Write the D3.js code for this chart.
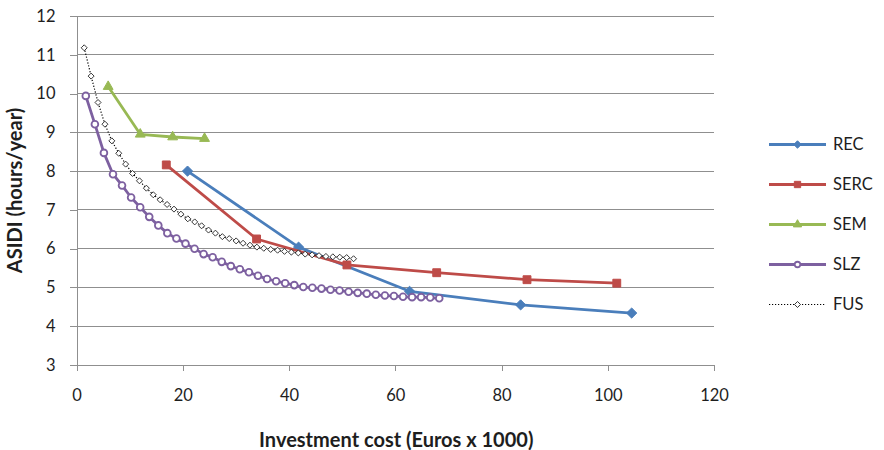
<!DOCTYPE html>
<html>
<head>
<meta charset="utf-8">
<script src="https://cdn.jsdelivr.net/npm/d3@7"></script>
<style>
  html, body { margin: 0; padding: 0; background: #fff; }
  svg { display: block; font-family: Lato, "Open Sans", "Liberation Sans", sans-serif; }
</style>
</head>
<body>
<svg id="chart" width="884" height="450"></svg>
<script>
// Investment cost (thousand euros) and ASIDI (hours/year) for each strategy
const recX = [20.9, 41.8, 62.7, 83.6, 104.5];
const recY = [8.0, 6.04, 4.9, 4.55, 4.34];

const sercX = [16.9, 33.9, 50.9, 67.8, 84.8, 101.7];
const sercY = [8.16, 6.25, 5.58, 5.38, 5.20, 5.11];

const semX = [5.96, 12.0, 18.1, 24.1];
const semY = [10.18, 8.95, 8.88, 8.84];

const slzX = [1.75, 3.46, 5.16, 6.87, 8.57, 10.28, 11.99, 13.69, 15.4, 17.1,
  18.81, 20.52, 22.22, 23.93, 25.63, 27.34, 29.05, 30.75, 32.46, 34.16,
  35.87, 37.58, 39.28, 40.99, 42.69, 44.4, 46.11, 47.81, 49.52, 51.22,
  52.93, 54.64, 56.34, 58.05, 59.75, 61.46, 63.17, 64.87, 66.58, 68.28];
const slzY = [9.94, 9.21, 8.47, 7.92, 7.63, 7.32, 7.07, 6.82, 6.60, 6.40,
  6.26, 6.13, 6.00, 5.86, 5.78, 5.66, 5.55, 5.47, 5.39, 5.30,
  5.22, 5.16, 5.11, 5.06, 5.01, 4.99, 4.97, 4.94, 4.92, 4.89,
  4.86, 4.84, 4.81, 4.79, 4.78, 4.76, 4.75, 4.75, 4.74, 4.72];

const fusX = [1.45, 2.75, 4.05, 5.35, 6.65, 7.95, 9.25, 10.55, 11.85, 13.15,
  14.45, 15.75, 17.05, 18.35, 19.65, 20.95, 22.25, 23.55, 24.85, 26.15,
  27.45, 28.75, 30.05, 31.35, 32.65, 33.95, 35.25, 36.55, 37.85, 39.15,
  40.45, 41.75, 43.05, 44.35, 45.65, 46.95, 48.25, 49.55, 50.85, 52.15];
const fusY = [11.18, 10.45, 9.77, 9.21, 8.78, 8.46, 8.18, 7.94, 7.75, 7.56,
  7.39, 7.26, 7.14, 7.02, 6.89, 6.77, 6.69, 6.59, 6.48, 6.40,
  6.31, 6.26, 6.20, 6.14, 6.09, 6.04, 6.01, 5.98, 5.96, 5.93,
  5.91, 5.89, 5.86, 5.84, 5.82, 5.80, 5.79, 5.78, 5.77, 5.74];

const xTicks = [0, 20, 40, 60, 80, 100, 120];
const yTicks = [3, 4, 5, 6, 7, 8, 9, 10, 11, 12];

const seriesNames = ["REC", "SERC", "SEM", "SLZ", "FUS"];

// square rotated 45 degrees; size is the area
const squareDiamond = {
  draw(ctx, size) {
    const r = Math.sqrt(size / 2);
    ctx.moveTo(0, -r);
    ctx.lineTo(r, 0);
    ctx.lineTo(0, r);
    ctx.lineTo(-r, 0);
    ctx.closePath();
  }
};

const symbolFor = {
  diamond: squareDiamond,
  square: d3.symbolSquare,
  triangle: d3.symbolTriangle,
  circle: d3.symbolCircle
};

const series = [
  { xs: recX,  ys: recY,  color: "#4A7EBB", width: 2.8, dash: null, marker: "diamond",  size: 52, legSize: 28, fill: "#4A7EBB", stroke: "#4A7EBB", sw: 1 },
  { xs: sercX, ys: sercY, color: "#BE4B48", width: 2.8, dash: null, marker: "square",   size: 62, legSize: 40, fill: "#BE4B48", stroke: "#BE4B48", sw: 1 },
  { xs: semX,  ys: semY,  color: "#98B954", width: 2.8, dash: null, marker: "triangle", size: 42, legSize: 30, fill: "#98B954", stroke: "#98B954", sw: 1 },
  { xs: slzX,  ys: slzY,  color: "#7D60A0", width: 2.8, dash: null, marker: "circle",   size: 36, legSize: 24, fill: "#fff",    stroke: "#7D60A0", sw: 1.8 },
  { xs: fusX,  ys: fusY,  color: "#000",    width: 1.2, dash: "1.2,1.8", marker: "diamond", size: 18, legSize: 18, fill: "#fff", stroke: "#222", sw: 0.9 }
];

const svg = d3.select("#chart");

const x = d3.scaleLinear().domain([0, 120]).range([76.5, 714]);
const y = d3.scaleLinear().domain([3, 12]).range([365, 16]);

const gridColor = "#8f8f8f";

// horizontal gridlines
svg.append("g")
  .selectAll("line")
  .data(yTicks.filter(d => d > 3))
  .join("line")
  .attr("x1", x(0)).attr("x2", x(120))
  .attr("y1", d => y(d)).attr("y2", d => y(d))
  .attr("stroke", gridColor).attr("stroke-width", 1)
  .attr("shape-rendering", "crispEdges");

// axes
const yAxis = svg.append("g")
  .attr("transform", `translate(${x(0)},0)`)
  .call(d3.axisLeft(y).tickValues(yTicks).tickSize(7).tickPadding(14).tickSizeOuter(0));
const xAxis = svg.append("g")
  .attr("transform", `translate(0,${y(3)})`)
  .call(d3.axisBottom(x).tickValues(xTicks).tickSize(6).tickPadding(18).tickSizeOuter(0));

[yAxis, xAxis].forEach(g => {
  g.select(".domain").attr("stroke", gridColor).attr("shape-rendering", "crispEdges");
  g.selectAll(".tick line").attr("stroke", gridColor).attr("shape-rendering", "crispEdges");
  g.selectAll(".tick text")
    .attr("fill", "#1e1e1e")
    .style("font-size", "16.5px")
    .style("font-family", "Lato, 'Open Sans', sans-serif");
});

// axis titles
svg.append("text")
  .attr("x", (x(0) + x(120)) / 2 + 1)
  .attr("y", 447)
  .attr("text-anchor", "middle")
  .attr("font-weight", "bold")
  .attr("font-size", 20)
  .attr("fill", "#1e1e1e")
  .text("Investment cost (Euros x 1000)");

svg.append("text")
  .attr("transform", `translate(22,${(y(3) + y(12)) / 2}) rotate(-90)`)
  .attr("text-anchor", "middle")
  .attr("font-weight", "bold")
  .attr("font-size", 20)
  .attr("fill", "#1e1e1e")
  .text("ASIDI (hours/year)");

const line = d3.line().x(d => x(d[0])).y(d => y(d[1]));

// series lines and markers
series.forEach(s => {
  const pts = s.xs.map((v, i) => [v, s.ys[i]]);
  const g = svg.append("g");
  g.append("path")
    .datum(pts)
    .attr("d", line)
    .attr("fill", "none")
    .attr("stroke", s.color)
    .attr("stroke-width", s.width)
    .attr("stroke-dasharray", s.dash)
    .attr("stroke-linejoin", "round");
  g.selectAll("path.m")
    .data(pts)
    .join("path")
    .attr("class", "m")
    .attr("transform", d => `translate(${x(d[0])},${y(d[1])})`)
    .attr("d", d3.symbol(symbolFor[s.marker], s.size))
    .attr("fill", s.fill)
    .attr("stroke", s.stroke)
    .attr("stroke-width", s.sw);
});

// legend
const legend = svg.append("g");
series.forEach((s, i) => {
  const ly = 144.5 + i * 40;
  const g = legend.append("g").attr("transform", `translate(0,${ly})`);
  g.append("line")
    .attr("x1", 769).attr("x2", 826).attr("y1", 0).attr("y2", 0)
    .attr("stroke", s.color)
    .attr("stroke-width", s.width)
    .attr("stroke-dasharray", s.dash);
  g.append("path")
    .attr("transform", "translate(797.5,0)")
    .attr("d", d3.symbol(symbolFor[s.marker], s.legSize))
    .attr("fill", s.fill)
    .attr("stroke", s.stroke)
    .attr("stroke-width", s.sw);
  g.append("text")
    .attr("x", 833)
    .attr("y", 0)
    .attr("dy", "0.36em")
    .attr("font-size", 16.5)
    .attr("fill", "#1e1e1e")
    .text(seriesNames[i]);
});
</script>
</body>
</html>
